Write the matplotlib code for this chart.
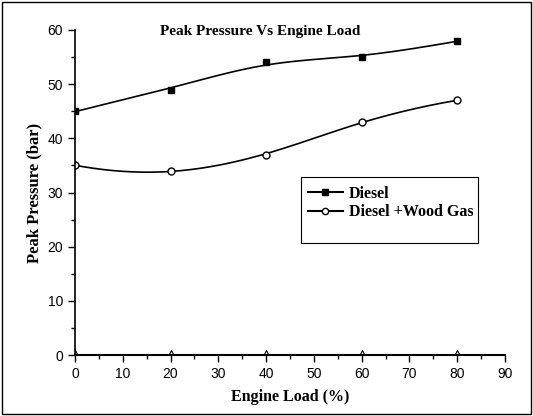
import numpy as np
import matplotlib
matplotlib.use("Agg")
import matplotlib.pyplot as plt
from matplotlib.patches import Rectangle

# data
load = [0, 20, 40, 60, 80]
diesel = [45, 49, 54, 55, 58]
wood_gas = [35, 34, 37, 43, 47]
baseline = [0, 0, 0, 0, 0]


def spline(x, y, xs):
    """Natural cubic spline through the points."""
    x = np.asarray(x, float); y = np.asarray(y, float)
    k = len(x); h = np.diff(x)
    A = np.zeros((k, k)); b = np.zeros(k)
    A[0, 0] = A[-1, -1] = 1
    for i in range(1, k - 1):
        A[i, i - 1] = h[i - 1]; A[i, i] = 2 * (h[i - 1] + h[i]); A[i, i + 1] = h[i]
        b[i] = 3 * ((y[i + 1] - y[i]) / h[i] - (y[i] - y[i - 1]) / h[i - 1])
    c = np.linalg.solve(A, b)
    i = np.clip(np.searchsorted(x, xs, side="right") - 1, 0, k - 2)
    d = xs - x[i]
    bb = (y[i + 1] - y[i]) / h[i] - h[i] * (2 * c[i] + c[i + 1]) / 3
    dd = (c[i + 1] - c[i]) / (3 * h[i])
    return y[i] + bb * d + c[i] * d ** 2 + dd * d ** 3


def smooth(x, y, n=200, w=0.5):
    """Smoothed line: blend of interpolating spline and cubic trend."""
    xs = np.linspace(min(x), max(x), n)
    fit = np.polyval(np.polyfit(x, y, 3), xs)
    return xs, w * spline(x, y, xs) + (1 - w) * fit


serif = "Liberation Serif"
sans = "Liberation Sans"

fig = plt.figure(figsize=(5.33, 4.16), dpi=100)
fig.patches.append(Rectangle((0.004, 0.005), 0.992, 0.99, transform=fig.transFigure,
                             fill=False, edgecolor="black", linewidth=1.0))
ax = fig.add_axes([0.1407, 0.1466, 0.8068, 0.7813])

xs, ys = smooth(load, diesel)
ax.plot(xs, ys, color="black", linewidth=1.2)
ax.plot(load, diesel, "s", color="black", markersize=5)
xs, ys = smooth(load, wood_gas)
ax.plot(xs, ys, color="black", linewidth=1.2)
ax.plot(load, wood_gas, "o", mfc="white", mec="black", markersize=5)
ax.plot(load, baseline, "^", mfc="white", mec="black", markersize=6.5,
        markeredgewidth=0.8, zorder=2)

# legend handles
ax.plot([], [], "-s", color="black", markersize=4.5, label="Diesel")
ax.plot([], [], "-o", color="black", mfc="white", markersize=4.5, label="Diesel +Wood Gas")
ax.add_patch(Rectangle((0.526, 0.345), 0.412, 0.203, transform=ax.transAxes,
                       fill=True, facecolor="white", edgecolor="black", linewidth=0.8, zorder=4))
leg = ax.legend(loc="upper left", bbox_to_anchor=(0.511, 0.56), frameon=False,
                borderpad=0.3, handlelength=2.2, handletextpad=0.38,
                prop={"family": serif, "weight": "bold", "size": 11.5}, labelspacing=0.15)
leg.set_zorder(5)

ax.set_xlim(0, 90)
ax.set_ylim(0, 60)
ax.set_xticks(range(0, 91, 10))
ax.set_yticks(range(0, 61, 10))
ax.set_xticks(range(5, 91, 10), minor=True)
ax.set_yticks(range(5, 61, 10), minor=True)
ax.tick_params(direction="out", length=5, width=1, labelsize=10)
ax.tick_params(which="minor", direction="out", length=3, width=1)
for lab in ax.get_xticklabels() + ax.get_yticklabels():
    lab.set_fontfamily(sans)
ax.spines["top"].set_visible(False)
ax.spines["right"].set_visible(False)
ax.spines["left"].set_linewidth(1.2)
ax.spines["bottom"].set_linewidth(1.5)

ax.set_xlabel("Engine Load (%)", fontfamily=serif, fontweight="bold", fontsize=11.5, labelpad=6)
ax.set_ylabel("Peak Pressure (bar)", fontfamily=serif, fontweight="bold", fontsize=12, labelpad=4)
ax.text(0.43, 0.995, "Peak Pressure Vs Engine Load", transform=ax.transAxes,
        ha="center", va="center", fontfamily=serif, fontweight="bold", fontsize=11)

fig.savefig("out.png", dpi=100)
